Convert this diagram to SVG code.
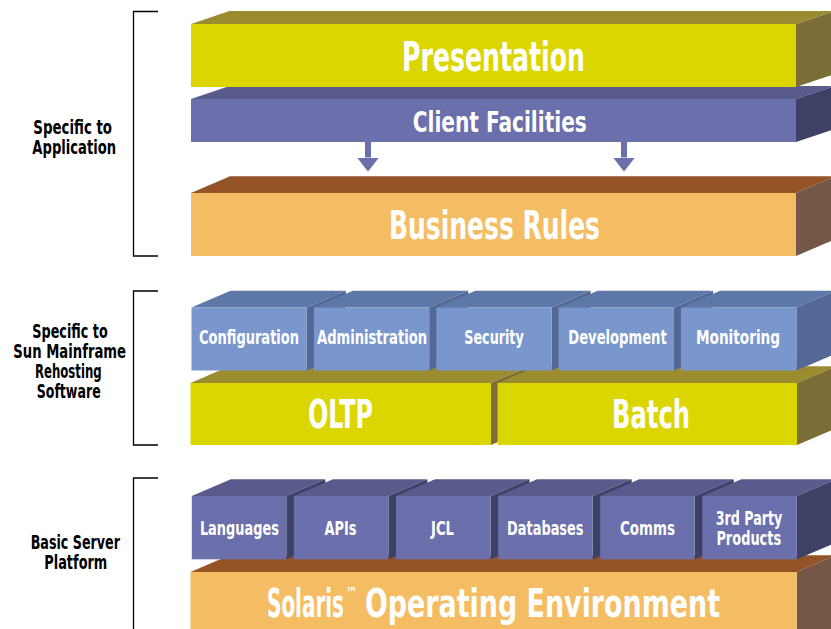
<svg xmlns="http://www.w3.org/2000/svg" width="831" height="629" viewBox="0 0 831 629">
<defs>
<style>
text{font-family:"Liberation Sans Narrow","DejaVu Sans Condensed","Liberation Sans",sans-serif;font-weight:bold;}
.w{fill:#ffffff;text-anchor:middle;}
.lbl{fill:#000000;text-anchor:middle;font-size:19px;}
.yF{fill:#DCD600}.yT{fill:#9C8C30}.yS{fill:#7A6E36}
.pF{fill:#6B6FAB}.pT{fill:#585B8C}.pS{fill:#3E4066}
.oF{fill:#F5BD63}.oT{fill:#955427}.oS{fill:#745746}
.bF{fill:#7A97CD}.bT{fill:#5D78A8}.bS{fill:#536894}
.br{fill:none;stroke:#000000;stroke-width:1.3}
.arr{stroke:#6B6FAB;stroke-width:6;fill:none}
</style>
<marker id="ah" markerUnits="userSpaceOnUse" markerWidth="14" markerHeight="22" refX="0" refY="11" orient="auto" viewBox="0 0 14 22">
<path d="M0,0 L14,11 L0,22 Z" fill="#6B6FAB"/>
</marker>
</defs>
<rect width="831" height="629" fill="#ffffff"/>

<g id="brackets">
<path class="br" d="M158,11.5 H133.5 V256 H158"/>
<path class="br" d="M158,291 H133.5 V445 H158"/>
<path class="br" d="M158,478 H133.5 V629"/>
</g>

<g id="labels">
<text class="lbl"><tspan x="72.7" y="134.3" textLength="78.7" lengthAdjust="spacingAndGlyphs">Specific to</tspan><tspan x="74.2" y="154.3" textLength="83.7" lengthAdjust="spacingAndGlyphs">Application</tspan></text>
<text class="lbl"><tspan x="70" y="337.7" textLength="75.4" lengthAdjust="spacingAndGlyphs">Specific to</tspan><tspan x="69.7" y="357.7" textLength="112.7" lengthAdjust="spacingAndGlyphs">Sun Mainframe</tspan><tspan x="68.3" y="377.7" textLength="66.7" lengthAdjust="spacingAndGlyphs">Rehosting</tspan><tspan x="68.7" y="397.7" textLength="64" lengthAdjust="spacingAndGlyphs">Software</tspan></text>
<text class="lbl"><tspan x="75.3" y="548.7" textLength="89.3" lengthAdjust="spacingAndGlyphs">Basic Server</tspan><tspan x="75.8" y="569.3" textLength="63" lengthAdjust="spacingAndGlyphs">Platform</tspan></text>
</g>

<!-- Top section -->
<g id="client">
<polygon class="pT" points="191,99 796,99 834.5,86 229.5,86"/>
<polygon class="pS" points="796,99 834.5,86 834.5,129 796,142"/>
<rect class="pF" x="191" y="99" width="605" height="43"/>
<text class="w" x="499.8" y="131.5" font-size="28" textLength="174" lengthAdjust="spacingAndGlyphs">Client Facilities</text>
</g>
<g id="presentation">
<polygon class="yT" points="191,24 796,24 834.5,11 229.5,11"/>
<polygon class="yS" points="796,24 834.5,11 834.5,74 796,87"/>
<rect class="yF" x="191" y="24" width="605" height="63"/>
<text class="w" x="493.5" y="70.8" font-size="40" textLength="183" lengthAdjust="spacingAndGlyphs">Presentation</text>
</g>
<g id="business-rules">
<polygon class="oT" points="191,193 796,193 835,176.3 230,176.3"/>
<polygon class="oS" points="796,193 835,176.3 835,239.3 796,256"/>
<rect class="oF" x="191" y="193" width="605" height="63"/>
<text class="w" x="494.5" y="238.8" font-size="39" textLength="211" lengthAdjust="spacingAndGlyphs">Business Rules</text>
</g>

<g id="connectors">
<line class="arr" x1="368" y1="142" x2="368" y2="157.5" marker-end="url(#ah)"/>
<line class="arr" x1="624" y1="142" x2="624" y2="157.5" marker-end="url(#ah)"/>
</g>

<!-- Middle section -->
<g id="oltp">
<polygon class="yT" points="190.5,383 491,383 530,366.3 229.5,366.3"/>
<polygon class="yS" points="491,383 530,366.3 530,428.3 491,445"/>
<rect class="yF" x="190.5" y="383" width="300.5" height="62"/>
<text class="w" x="340.5" y="428.3" font-size="38.5" textLength="65" lengthAdjust="spacingAndGlyphs">OLTP</text>
</g>
<g id="batch">
<polygon class="yT" points="497.5,383 797,383 836,366.3 536.5,366.3"/>
<polygon class="yS" points="797,383 836,366.3 836,428.3 797,445"/>
<rect class="yF" x="497.5" y="383" width="299.5" height="62"/>
<text class="w" x="651" y="428.3" font-size="38.5" textLength="78" lengthAdjust="spacingAndGlyphs">Batch</text>
</g>
<g id="configuration">
<polygon class="bT" points="191.5,307.5 306.8,307.5 345.8,290.8 230.5,290.8"/>
<polygon class="bS" points="306.8,307.5 345.8,290.8 345.8,353.8 306.8,370.5"/>
<rect class="bF" x="191.5" y="307.5" width="115.3" height="63"/>
<text class="w" x="249" y="344" font-size="20" textLength="100" lengthAdjust="spacingAndGlyphs">Configuration</text>
</g>
<g id="administration">
<polygon class="bT" points="313.9,307.5 429.2,307.5 468.2,290.8 352.9,290.8"/>
<polygon class="bS" points="429.2,307.5 468.2,290.8 468.2,353.8 429.2,370.5"/>
<rect class="bF" x="313.9" y="307.5" width="115.3" height="63"/>
<text class="w" x="372" y="344" font-size="20" textLength="110" lengthAdjust="spacingAndGlyphs">Administration</text>
</g>
<g id="security">
<polygon class="bT" points="436.3,307.5 551.6,307.5 590.6,290.8 475.3,290.8"/>
<polygon class="bS" points="551.6,307.5 590.6,290.8 590.6,353.8 551.6,370.5"/>
<rect class="bF" x="436.3" y="307.5" width="115.3" height="63"/>
<text class="w" x="494" y="344" font-size="20" textLength="59.4" lengthAdjust="spacingAndGlyphs">Security</text>
</g>
<g id="development">
<polygon class="bT" points="558.7,307.5 674,307.5 713,290.8 597.7,290.8"/>
<polygon class="bS" points="674,307.5 713,290.8 713,353.8 674,370.5"/>
<rect class="bF" x="558.7" y="307.5" width="115.3" height="63"/>
<text class="w" x="617.5" y="344" font-size="20" textLength="98.4" lengthAdjust="spacingAndGlyphs">Development</text>
</g>
<g id="monitoring">
<polygon class="bT" points="681.1,307.5 796.4,307.5 835.4,290.8 720.1,290.8"/>
<polygon class="bS" points="796.4,307.5 835.4,290.8 835.4,353.8 796.4,370.5"/>
<rect class="bF" x="681.1" y="307.5" width="115.3" height="63"/>
<text class="w" x="738" y="344" font-size="20" textLength="84" lengthAdjust="spacingAndGlyphs">Monitoring</text>
</g>

<!-- Bottom section -->
<g id="solaris">
<polygon class="oT" points="190.5,572 796.8,572 835.8,555.3 229.5,555.3"/>
<polygon class="oS" points="796.8,572 835.8,555.3 835.8,640 796.8,640"/>
<rect class="oF" x="190.5" y="572" width="606.3" height="68"/>
<text class="w" style="text-anchor:start"><tspan x="267" y="616.7" font-size="39" textLength="77" lengthAdjust="spacingAndGlyphs">Solaris</tspan><tspan x="346" y="598" font-size="15" textLength="11" lengthAdjust="spacingAndGlyphs">™</tspan><tspan x="365" y="616.7" font-size="39" textLength="355" lengthAdjust="spacingAndGlyphs">Operating Environment</tspan></text>
</g>
<g id="languages">
<polygon class="pT" points="191.8,496 286.3,496 325.3,479.3 230.8,479.3"/>
<polygon class="pS" points="286.3,496 325.3,479.3 325.3,542.6 286.3,559.3"/>
<rect class="pF" x="191.8" y="496" width="94.5" height="63.3"/>
<text class="w" x="239.4" y="535" font-size="19.5" textLength="79" lengthAdjust="spacingAndGlyphs">Languages</text>
</g>
<g id="apis">
<polygon class="pT" points="293.9,496 388.4,496 427.4,479.3 332.9,479.3"/>
<polygon class="pS" points="388.4,496 427.4,479.3 427.4,542.6 388.4,559.3"/>
<rect class="pF" x="293.9" y="496" width="94.5" height="63.3"/>
<text class="w" x="340.5" y="535" font-size="19.5" textLength="32" lengthAdjust="spacingAndGlyphs">APIs</text>
</g>
<g id="jcl">
<polygon class="pT" points="396,496 490.5,496 529.5,479.3 435,479.3"/>
<polygon class="pS" points="490.5,496 529.5,479.3 529.5,542.6 490.5,559.3"/>
<rect class="pF" x="396" y="496" width="94.5" height="63.3"/>
<text class="w" x="442.5" y="535" font-size="19.5" textLength="23" lengthAdjust="spacingAndGlyphs">JCL</text>
</g>
<g id="databases">
<polygon class="pT" points="498.1,496 592.6,496 631.6,479.3 537.1,479.3"/>
<polygon class="pS" points="592.6,496 631.6,479.3 631.6,542.6 592.6,559.3"/>
<rect class="pF" x="498.1" y="496" width="94.5" height="63.3"/>
<text class="w" x="545.3" y="535" font-size="19.5" textLength="76.4" lengthAdjust="spacingAndGlyphs">Databases</text>
</g>
<g id="comms">
<polygon class="pT" points="600.2,496 694.7,496 733.7,479.3 639.2,479.3"/>
<polygon class="pS" points="694.7,496 733.7,479.3 733.7,542.6 694.7,559.3"/>
<rect class="pF" x="600.2" y="496" width="94.5" height="63.3"/>
<text class="w" x="647.5" y="535" font-size="19.5" textLength="55" lengthAdjust="spacingAndGlyphs">Comms</text>
</g>
<g id="third-party">
<polygon class="pT" points="702.3,496 796.8,496 835.8,479.3 741.3,479.3"/>
<polygon class="pS" points="796.8,496 835.8,479.3 835.8,542.6 796.8,559.3"/>
<rect class="pF" x="702.3" y="496" width="94.5" height="63.3"/>
<text class="w" font-size="19.5"><tspan x="749" y="525" textLength="66.4" lengthAdjust="spacingAndGlyphs">3rd Party</tspan><tspan x="748.8" y="545" textLength="64.8" lengthAdjust="spacingAndGlyphs">Products</tspan></text>
</g>
</svg>
